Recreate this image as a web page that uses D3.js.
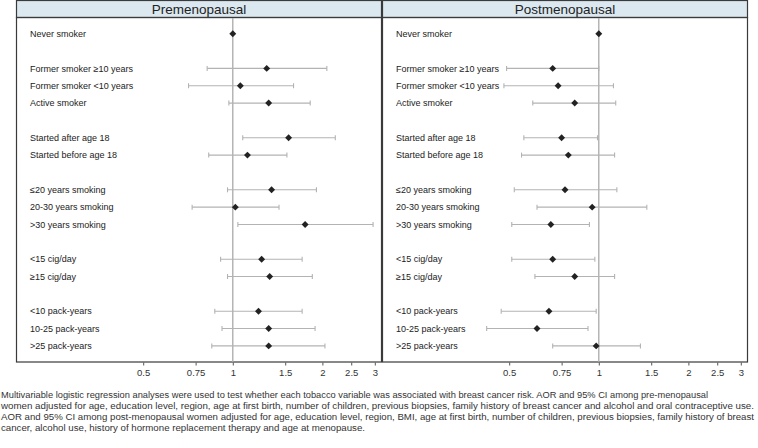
<!DOCTYPE html>
<html>
<head>
<meta charset="utf-8">
<script src="https://cdn.jsdelivr.net/npm/d3@7"></script>
<style>
  body { margin: 0; background: #fff; }
  svg { display: block; }
</style>
</head>
<body>
<svg width="758" height="448"></svg>
<script>
// row labels, null = empty spacer row
const rowLabels = [
    "Never smoker", null,
    "Former smoker \u226510 years", "Former smoker <10 years", "Active smoker", null,
    "Started after age 18", "Started before age 18", null,
    "\u226420 years smoking", "20-30 years smoking", ">30 years smoking", null,
    "<15 cig/day", "\u226515 cig/day", null,
    "<10 pack-years", "10-25 pack-years", ">25 pack-years"
];

// premenopausal: AOR, lower, upper
const preAOR   = [1, null, 1.30, 1.06, 1.32, null, 1.54, 1.12, null, 1.35, 1.02, 1.75, null, 1.25, 1.33, null, 1.22, 1.32, 1.32];
const preLow   = [1, null, 0.82, 0.71, 0.97, null, 1.08, 0.83, null, 0.96, 0.73, 1.04, null, 0.91, 0.96, null, 0.87, 0.92, 0.85];
const preHigh  = [1, null, 2.07, 1.60, 1.82, null, 2.21, 1.52, null, 1.91, 1.43, 2.96, null, 1.71, 1.85, null, 1.71, 1.89, 2.04];

// postmenopausal
const postAOR  = [1, null, 0.70, 0.73, 0.83, null, 0.75, 0.79, null, 0.77, 0.95, 0.69, null, 0.70, 0.83, null, 0.68, 0.62, 0.98];
const postLow  = [1, null, 0.49, 0.48, 0.60, null, 0.56, 0.55, null, 0.52, 0.62, 0.51, null, 0.51, 0.61, null, 0.47, 0.42, 0.70];
const postHigh = [1, null, 1.00, 1.12, 1.14, null, 0.99, 1.13, null, 1.15, 1.45, 0.93, null, 0.97, 1.13, null, 0.98, 0.92, 1.38];

const tickValues = [0.5, 0.75, 1, 1.5, 2, 2.5, 3];

const captionLines = [
    "Multivariable logistic regression analyses were used to test whether each tobacco variable was associated with breast cancer risk. AOR and 95% CI among pre-menopausal",
    "women adjusted for age, education level, region, age at first birth, number of children, previous biopsies, family history of breast cancer and alcohol and oral contraceptive use.",
    "AOR and 95% CI among post-menopausal women adjusted for age, education level, region, BMI, age at first birth, number of children, previous biopsies, family history of breast",
    "cancer, alcohol use, history of hormone replacement therapy and age at menopause."
];
const captionWidths = [708, 754, 754, 365];

const svg = d3.select("svg");

const panelW = 366;
const headerH = 17;
const bodyBottom = 362;
const font = "Liberation Sans, Arial, sans-serif";

const panels = [
    {title: "Premenopausal", left: 16, aor: preAOR, lo: preLow, hi: preHigh},
    {title: "Postmenopausal", left: 382, aor: postAOR, lo: postLow, hi: postHigh}
];

// rows
const y = d3.scaleLinear()
    .domain([0, 18])
    .range([33.7, 345.9]);

panels.forEach(p => {
    const g = svg.append("g")
        .attr("transform", `translate(${p.left}, 0)`);

    const x = d3.scaleLog()
        .domain([0.5, 3])
        .range([127.2, 358.8]);

    // header
    g.append("rect")
        .attr("x", 0.5).attr("y", 0.5)
        .attr("width", panelW - 1).attr("height", headerH)
        .attr("fill", "#dbe8f0")
        .attr("stroke", "#3a3a3a")
        .attr("stroke-width", 1.2);

    g.append("text")
        .attr("x", panelW / 2)
        .attr("y", 14)
        .attr("text-anchor", "middle")
        .attr("font-family", font)
        .attr("font-size", "13.5px")
        .attr("fill", "#222")
        .text(p.title);

    // body box
    g.append("rect")
        .attr("x", 0.5).attr("y", headerH + 0.5)
        .attr("width", panelW - 1).attr("height", bodyBottom - headerH - 0.5)
        .attr("fill", "none")
        .attr("stroke", "#3a3a3a")
        .attr("stroke-width", 1.2);

    // reference line at 1
    g.append("line")
        .attr("x1", x(1)).attr("x2", x(1))
        .attr("y1", headerH + 1).attr("y2", bodyBottom)
        .attr("stroke", "#a9a9a9")
        .attr("stroke-width", 1.3);

    // axis
    const xAxis = d3.axisBottom(x)
        .tickValues(tickValues)
        .tickFormat(d => String(d))
        .tickSize(3)
        .tickPadding(4);
    const ax = g.append("g")
        .attr("transform", `translate(0, ${bodyBottom + 0.5})`)
        .call(xAxis);
    ax.select(".domain").remove();
    ax.selectAll("line").attr("stroke", "#555");
    ax.selectAll("text")
        .attr("font-family", font)
        .attr("font-size", "9.5px")
        .attr("fill", "#333");

    const rows = rowLabels.map((label, i) => ({label, i, aor: p.aor[i], lo: p.lo[i], hi: p.hi[i]}))
        .filter(d => d.label !== null);

    // labels
    g.selectAll("text.lbl").data(rows).enter().append("text")
        .attr("class", "lbl")
        .attr("x", 14)
        .attr("y", d => y(d.i) + 3.2)
        .attr("font-family", font)
        .attr("font-size", "9px")
        .attr("fill", "#222")
        .text(d => d.label);

    const ciRows = rows.filter(d => d.lo !== d.hi);

    // CI lines
    g.selectAll("line.ci").data(ciRows).enter().append("line")
        .attr("class", "ci")
        .attr("x1", d => x(d.lo)).attr("x2", d => x(d.hi))
        .attr("y1", d => y(d.i)).attr("y2", d => y(d.i))
        .attr("stroke", "#b3b3b3").attr("stroke-width", 1.1);

    ["lo", "hi"].forEach(k => {
        g.selectAll("line.cap-" + k).data(ciRows).enter().append("line")
            .attr("class", "cap-" + k)
            .attr("x1", d => x(d[k])).attr("x2", d => x(d[k]))
            .attr("y1", d => y(d.i) - 2.5).attr("y2", d => y(d.i) + 2.5)
            .attr("stroke", "#b3b3b3").attr("stroke-width", 1.1);
    });

    // points
    g.selectAll("path.pt").data(rows).enter().append("path")
        .attr("class", "pt")
        .attr("d", d3.symbol(d3.symbolSquare, 24))
        .attr("transform", d => `translate(${x(d.aor)}, ${y(d.i)}) rotate(45)`)
        .attr("fill", "#222");
});

// caption
svg.selectAll("text.cap").data(captionLines).enter().append("text")
    .attr("class", "cap")
    .attr("x", 1)
    .attr("y", (d, i) => 397.5 + i * 11)
    .attr("font-family", font)
    .attr("font-size", "9.2px")
    .attr("fill", "#333")
    .attr("textLength", (d, i) => captionWidths[i] - 1)
    .attr("lengthAdjust", "spacingAndGlyphs")
    .text(d => d);
</script>
</body>
</html>
